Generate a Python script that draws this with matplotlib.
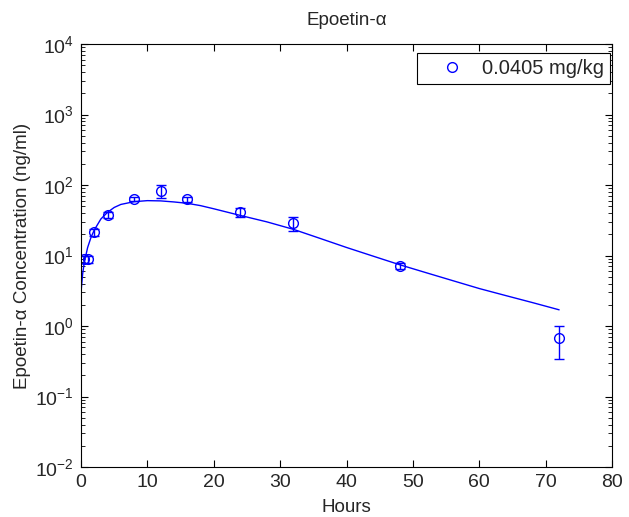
import matplotlib
matplotlib.use("Agg")
import matplotlib.pyplot as plt
from matplotlib.lines import Line2D
from matplotlib.ticker import LogLocator, LogFormatterMathtext, NullFormatter, MultipleLocator

plt.rcParams['font.family'] = ['Liberation Sans', 'DejaVu Sans']
plt.rcParams['mathtext.fontset'] = 'custom'
plt.rcParams['mathtext.rm'] = 'Liberation Sans'
plt.rcParams['mathtext.it'] = 'Liberation Sans:italic'

# Observed data
obs_t = [0.5, 1, 2, 4, 8, 12, 16, 24, 32, 48, 72]
obs_c = [8.8, 8.8, 21.5, 37.5, 63, 83, 63, 41, 28.6, 7.2, 0.67]
obs_err = [1.0, 1.0, 2.5, 4.0, 4.0, 18, 5.0, 5.5, 6.3, 0.7, 0.33]

# Fitted curve
fit_t = [0, 0.25, 0.5, 1, 1.5, 2, 3, 4, 5, 6, 8, 10, 12, 14, 16, 18, 20, 24, 28,
         32, 36, 40, 44, 48, 52, 56, 60, 64, 68, 72]
fit_c = [3.0, 5.5, 8.0, 13, 18, 23, 33, 41, 48, 53, 58, 60, 59.5, 57.5, 55, 51, 46,
         37, 30, 23.5, 17.5, 13, 9.8, 7.4, 5.7, 4.4, 3.4, 2.7, 2.15, 1.7]

label = "0.0405 mg/kg"
blue = (0, 0, 1)
txtc = '#262626'

fig = plt.figure(figsize=(6.29, 5.17), dpi=100)
ax = fig.add_axes([81/629, 1-467/517, (612-81)/629, (467-44)/517])

ax.plot(fit_t, fit_c, color=blue, lw=1.0)
ax.errorbar(obs_t, obs_c, yerr=obs_err, fmt='o', mfc='none', mec=blue, color=blue,
            ms=7, mew=1.0, elinewidth=1.0, capsize=3.5, capthick=1.0)

ax.set_yscale('log')
ax.set_xlim(0, 80)
ax.set_ylim(1e-2, 1e4)
ax.xaxis.set_major_locator(MultipleLocator(10))
ax.yaxis.set_major_locator(LogLocator(base=10, numticks=20))
ax.yaxis.set_major_formatter(LogFormatterMathtext())
ax.yaxis.set_minor_locator(LogLocator(base=10, subs=range(2, 10), numticks=20))
ax.yaxis.set_minor_formatter(NullFormatter())
ax.tick_params(which='both', direction='in', top=True, right=True, labelsize=14,
               colors='black', labelcolor=txtc)
ax.tick_params(axis='x', pad=5)
ax.tick_params(axis='y', pad=5)
ax.tick_params(which='major', length=5, width=0.8)
ax.tick_params(which='minor', length=3, width=0.6)
for s in ax.spines.values():
    s.set_linewidth(0.8)

ax.set_title("Epoetin-\u03b1", fontsize=13.5, color=txtc, pad=14)
ax.set_xlabel("Hours", fontsize=13.5, color=txtc, labelpad=6)
ax.set_ylabel("Epoetin-\u03b1 Concentration (ng/ml)", fontsize=13.5, color=txtc, labelpad=3)

handle = Line2D([], [], ls='none', marker='o', mfc='none', mec=blue, ms=7, mew=1.0)
leg = ax.legend([handle], [label], loc='upper right', bbox_to_anchor=(0.996, 0.979),
                borderaxespad=0, fancybox=False, edgecolor='black', framealpha=1,
                fontsize=14.5, handlelength=2.8, handletextpad=0.1, borderpad=0.3,
                labelcolor=txtc)
leg.get_frame().set_linewidth(0.8)

fig.savefig("out.png", dpi=100)
